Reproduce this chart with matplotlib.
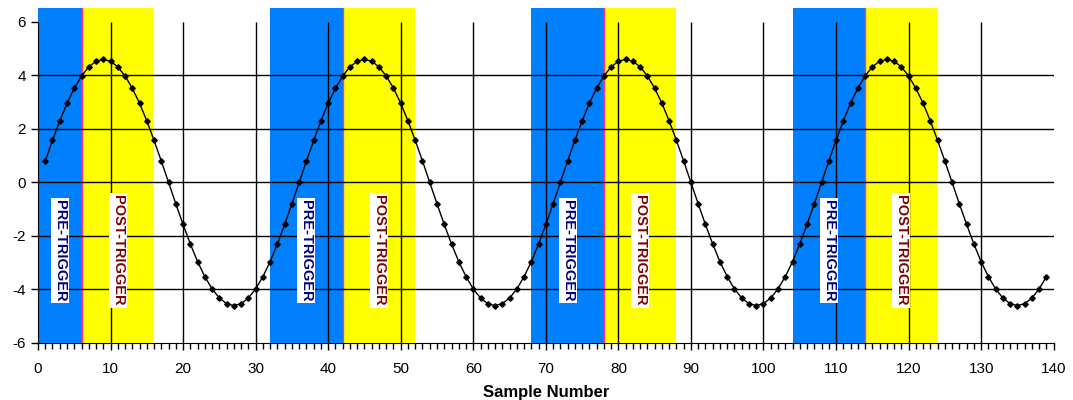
import numpy as np
import matplotlib.pyplot as plt

samples = np.arange(1, 140)
values = [
    0.80, 1.57, 2.30, 2.96, 3.52, 3.98, 4.32, 4.53, 4.60, 4.53, 4.32, 3.98, 3.52, 2.96, 2.30, 1.57, 0.80, 0.00,
    -0.80, -1.57, -2.30, -2.96, -3.52, -3.98, -4.32, -4.53, -4.60, -4.53, -4.32, -3.98, -3.52, -2.96, -2.30, -1.57, -0.80, 0.00,
    0.80, 1.57, 2.30, 2.96, 3.52, 3.98, 4.32, 4.53, 4.60, 4.53, 4.32, 3.98, 3.52, 2.96, 2.30, 1.57, 0.80, 0.00,
    -0.80, -1.57, -2.30, -2.96, -3.52, -3.98, -4.32, -4.53, -4.60, -4.53, -4.32, -3.98, -3.52, -2.96, -2.30, -1.57, -0.80, 0.00,
    0.80, 1.57, 2.30, 2.96, 3.52, 3.98, 4.32, 4.53, 4.60, 4.53, 4.32, 3.98, 3.52, 2.96, 2.30, 1.57, 0.80, 0.00,
    -0.80, -1.57, -2.30, -2.96, -3.52, -3.98, -4.32, -4.53, -4.60, -4.53, -4.32, -3.98, -3.52, -2.96, -2.30, -1.57, -0.80, 0.00,
    0.80, 1.57, 2.30, 2.96, 3.52, 3.98, 4.32, 4.53, 4.60, 4.53, 4.32, 3.98, 3.52, 2.96, 2.30, 1.57, 0.80, 0.00,
    -0.80, -1.57, -2.30, -2.96, -3.52, -3.98, -4.32, -4.53, -4.60, -4.53, -4.32, -3.98, -3.52,
]

# trigger windows: (pre start, trigger point, post end)
pre_starts = [0, 32, 68, 104]
triggers = [6, 42, 78, 114]
post_ends = [16, 52, 88, 124]

plt.rcParams['font.family'] = ['Liberation Sans', 'DejaVu Sans']
plt.rcParams['axes.unicode_minus'] = False

fig = plt.figure(figsize=(10.73, 4.0), dpi=100)
ax = fig.add_axes([0.0354, 0.1425, 0.9466, 0.8375])

for a, t, b in zip(pre_starts, triggers, post_ends):
    ax.axvspan(a, t, color='#0080FF', lw=0, zorder=1)
    ax.axvspan(t, b, color='#FFFF00', lw=0, zorder=1)
    ax.axvline(t, color='#FF3399', lw=1, zorder=1.5)
    ax.text((a + t) / 2, -2.55, 'PRE-TRIGGER', rotation=-90, ha='center', va='center',
            color='#000080', fontsize=10.5, fontweight='bold',
            family=['Liberation Sans Narrow', 'Liberation Sans'],
            bbox=dict(facecolor='white', edgecolor='none', pad=1.5), zorder=4)
    ax.text((t + b) / 2, -2.55, 'POST-TRIGGER', rotation=-90, ha='center', va='center',
            color='#800000', fontsize=10.5, fontweight='bold',
            family=['Liberation Sans Narrow', 'Liberation Sans'],
            bbox=dict(facecolor='white', edgecolor='none', pad=1.5), zorder=4)

# grid lines
ax.hlines([-4, -2, 0, 2, 4], 0, 140, color='black', lw=1, zorder=2)
ax.vlines(np.arange(10, 140, 10), -6, 6, color='black', lw=1, zorder=2)

ax.plot(samples, values, color='black', lw=1, marker='D', markersize=2.8, zorder=3)

ax.set_xlim(0, 140)
ax.set_ylim(-6, 6.52)
ax.set_xticks(np.arange(0, 141, 10))
ax.set_xticks(np.arange(0, 141, 1), minor=True)
ax.set_yticks(np.arange(-6, 7, 2))
ax.tick_params(axis='both', which='major', direction='out', length=5, width=1, labelsize=11, colors='black')
ax.tick_params(axis='x', which='major', pad=9)
ax.tick_params(axis='x', which='minor', direction='out', length=4, width=1)
ax.spines['top'].set_visible(False)
ax.spines['right'].set_visible(False)
ax.spines['left'].set_bounds(-6, 6)
ax.spines['bottom'].set_zorder(0.5)
ax.set_xlabel('Sample Number', fontsize=12, fontweight='bold', labelpad=6)

fig.savefig('out.png', dpi=100)
